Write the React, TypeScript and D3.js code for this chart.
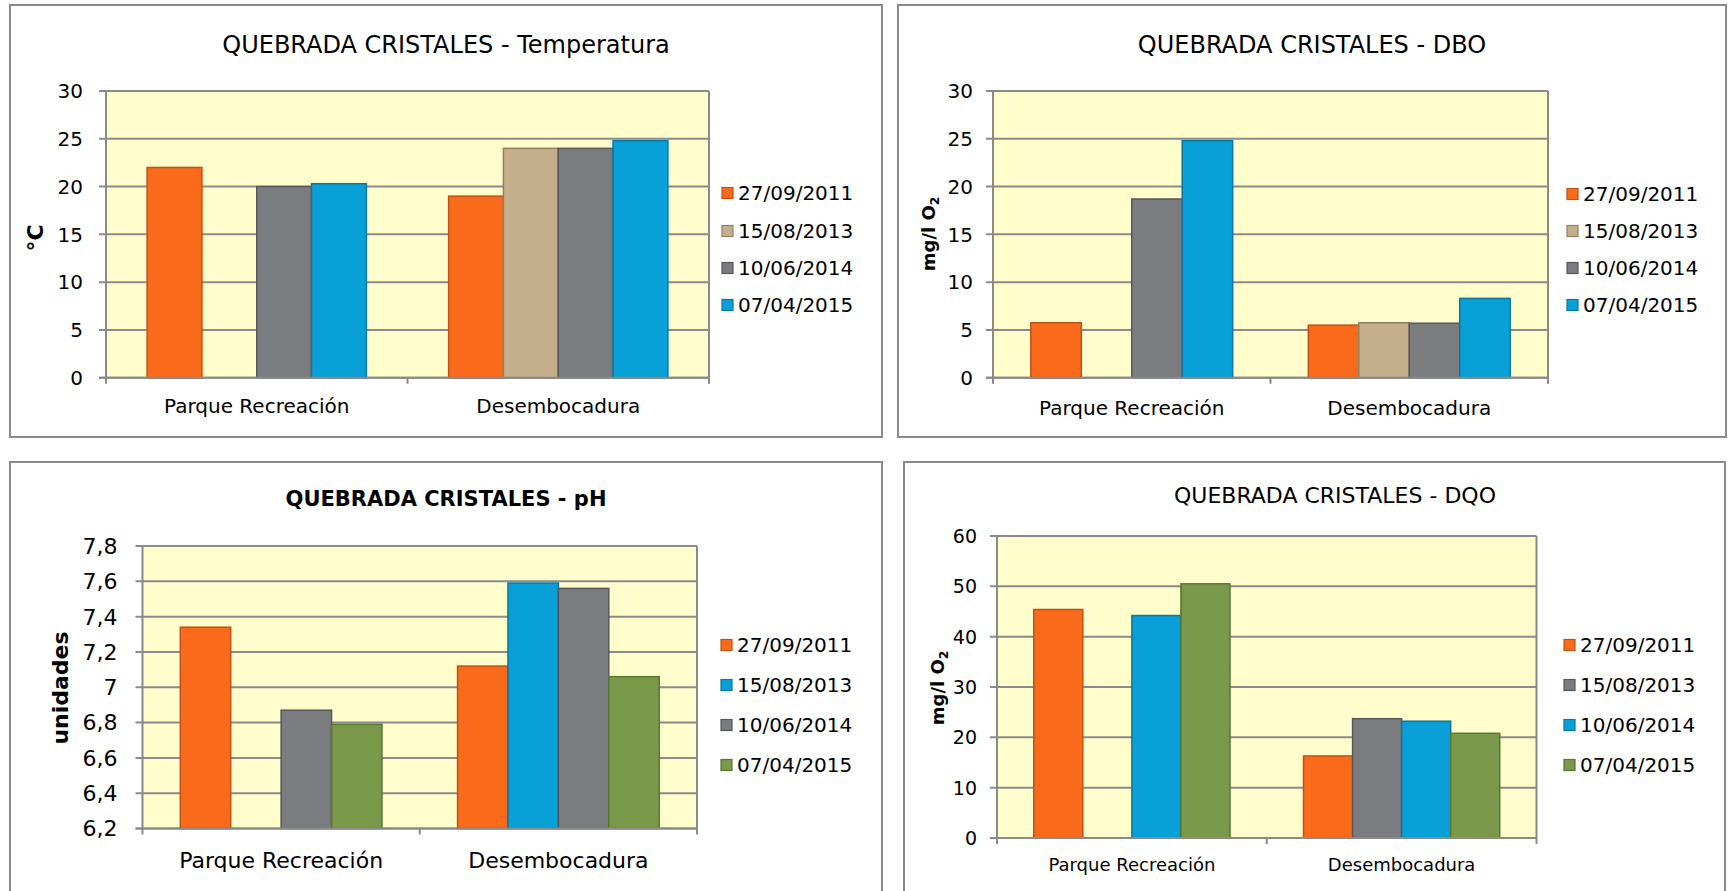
import React from "react";
import * as d3 from "d3";

// ---------- DATA ----------
const categories = ["Parque Recreación", "Desembocadura"];

const tempSeries = ["27/09/2011", "15/08/2013", "10/06/2014", "07/04/2015"];
const tempValues: (number | null)[][] = [
  [22.0, 19.0],
  [null, 24.0],
  [20.0, 24.0],
  [20.3, 24.8],
];
const tempTicks = [0, 5, 10, 15, 20, 25, 30];

const dboSeries = ["27/09/2011", "15/08/2013", "10/06/2014", "07/04/2015"];
const dboValues: (number | null)[][] = [
  [5.75, 5.5],
  [null, 5.75],
  [18.7, 5.7],
  [24.8, 8.3],
];
const dboTicks = [0, 5, 10, 15, 20, 25, 30];

const phSeries = ["27/09/2011", "15/08/2013", "10/06/2014", "07/04/2015"];
const phValues: (number | null)[][] = [
  [7.34, 7.12],
  [null, 7.59],
  [6.87, 7.56],
  [6.79, 7.06],
];
const phTicks = [6.2, 6.4, 6.6, 6.8, 7.0, 7.2, 7.4, 7.6, 7.8];

const dqoSeries = ["27/09/2011", "15/08/2013", "10/06/2014", "07/04/2015"];
const dqoValues: (number | null)[][] = [
  [45.4, 16.3],
  [null, 23.7],
  [44.2, 23.2],
  [50.5, 20.8],
];
const dqoTicks = [0, 10, 20, 30, 40, 50, 60];

// ---------- STYLES ----------
const ORANGE = { fill: "#F96B1B", stroke: "#BF5216" };
const TAN = { fill: "#C4AE8C", stroke: "#93805F" };
const GRAY = { fill: "#7B7C80", stroke: "#57585B" };
const BLUE = { fill: "#09A0D8", stroke: "#0A77A3" };
const GREEN = { fill: "#7A994A", stroke: "#587533" };

const FONT = "'DejaVu Sans', Verdana, sans-serif";
const LINE = "#8A8A8A";
const PLOT_BG = "#FFFDCC";

type PanelProps = {
  frame: { x: number; y: number; w: number; h: number };
  plot: { l: number; r: number; t: number; b: number };
  title: { text: string; x: number; y: number; size: number; bold: boolean };
  ylabel: { x: number; y: number; size: number; sub: boolean; text: string };
  ticks: number[];
  tickFmt: (v: number) => string;
  tickSize: number;
  tickGap: number;
  catSize: number;
  catY: number;
  series: string[];
  values: (number | null)[][];
  colors: { fill: string; stroke: string }[];
  legend: { x: number; ys: number[]; size: number };
};

function Panel(p: PanelProps) {
  const { plot } = p;
  const y = d3
    .scaleLinear()
    .domain([p.ticks[0], p.ticks[p.ticks.length - 1]])
    .range([plot.b, plot.t]);
  const x0 = d3.scaleBand<string>().domain(categories).range([plot.l, plot.r]).padding(0);
  const x1 = d3
    .scaleBand<string>()
    .domain(p.series)
    .range([0, x0.bandwidth()])
    .paddingInner(0)
    .paddingOuter(0.75);
  const boundaries = [plot.l, ...categories.map((c) => (x0(c) as number) + x0.bandwidth())];

  return (
    <g>
      <rect
        x={p.frame.x}
        y={p.frame.y}
        width={p.frame.w}
        height={p.frame.h}
        fill="#fff"
        stroke={LINE}
        strokeWidth={2}
      />
      <text
        x={p.title.x}
        y={p.title.y}
        textAnchor="middle"
        fontFamily={FONT}
        fontSize={p.title.size}
        fontWeight={p.title.bold ? "bold" : "normal"}
        fill="#000"
      >
        {p.title.text}
      </text>
      {/* plot background */}
      <rect x={plot.l} y={plot.t} width={plot.r - plot.l} height={plot.b - plot.t} fill={PLOT_BG} />
      {/* gridlines */}
      {p.ticks.map((t) => (
        <line key={"g" + t} x1={plot.l - 7} x2={plot.r} y1={y(t)} y2={y(t)} stroke={LINE} strokeWidth={2} />
      ))}
      {/* plot borders */}
      <line x1={plot.l} x2={plot.l} y1={plot.t} y2={plot.b + 6} stroke={LINE} strokeWidth={2} />
      <line x1={plot.r} x2={plot.r} y1={plot.t} y2={plot.b + 6} stroke={LINE} strokeWidth={2} />
      {boundaries.slice(1, -1).map((bx, i) => (
        <line key={"bt" + i} x1={bx} x2={bx} y1={plot.b} y2={plot.b + 6} stroke={LINE} strokeWidth={2} />
      ))}
      {/* bars */}
      {p.series.map((s, si) =>
        categories.map((c, ci) => {
          const v = p.values[si][ci];
          if (v == null) return null;
          const bx = (x0(c) as number) + (x1(s) as number);
          const top = y(v);
          return (
            <rect
              key={s + c}
              x={bx}
              y={top}
              width={x1.bandwidth()}
              height={plot.b - top}
              fill={p.colors[si].fill}
              stroke={p.colors[si].stroke}
              strokeWidth={1.5}
            />
          );
        })
      )}
      {/* redraw bottom axis line on top */}
      <line x1={plot.l - 7} x2={plot.r} y1={plot.b} y2={plot.b} stroke={LINE} strokeWidth={2} />
      {/* y tick labels */}
      {p.ticks.map((t) => (
        <text
          key={"t" + t}
          x={plot.l - p.tickGap}
          y={y(t)}
          dy="0.36em"
          textAnchor="end"
          fontFamily={FONT}
          fontSize={p.tickSize}
          fill="#000"
        >
          {p.tickFmt(t)}
        </text>
      ))}
      {/* category labels */}
      {categories.map((c) => (
        <text
          key={"c" + c}
          x={(x0(c) as number) + x0.bandwidth() / 2}
          y={p.catY}
          textAnchor="middle"
          fontFamily={FONT}
          fontSize={p.catSize}
          fill="#000"
        >
          {c}
        </text>
      ))}
      {/* y label */}
      <text
        transform={`translate(${p.ylabel.x},${p.ylabel.y}) rotate(-90)`}
        textAnchor="middle"
        dy="0.36em"
        fontFamily={FONT}
        fontSize={p.ylabel.size}
        fontWeight="bold"
        fill="#000"
      >
        {p.ylabel.sub ? (
          <>
            <tspan>{p.ylabel.text}</tspan>
            <tspan fontSize={p.ylabel.size * 0.68} dy="0.3em">
              2
            </tspan>
          </>
        ) : (
          p.ylabel.text
        )}
      </text>
      {/* legend */}
      {p.series.map((s, si) => (
        <g key={"l" + s}>
          <rect
            x={p.legend.x}
            y={p.legend.ys[si] - 5.5}
            width={11}
            height={11}
            fill={p.colors[si].fill}
            stroke={p.colors[si].stroke}
            strokeWidth={1.2}
          />
          <text
            x={p.legend.x + 16}
            y={p.legend.ys[si]}
            dy="0.36em"
            fontFamily={FONT}
            fontSize={p.legend.size}
            fill="#000"
          >
            {s}
          </text>
        </g>
      ))}
    </g>
  );
}

const intFmt = (v: number) => d3.format("d")(v);
const phFmt = (v: number) => String(+v.toFixed(1)).replace(".", ",");

export default function App() {
  return (
    <svg
      width={1729}
      height={891}
      style={{ position: "absolute", left: 0, top: 0, background: "#fff" }}
    >
      <rect x={0} y={0} width={1729} height={891} fill="#fff" />
      <Panel
        frame={{ x: 10, y: 5, w: 872, h: 432 }}
        plot={{ l: 106, r: 709, t: 91, b: 377.7 }}
        title={{ text: "QUEBRADA CRISTALES - Temperatura", x: 446, y: 53, size: 24, bold: false }}
        ylabel={{ x: 35, y: 238, size: 22, sub: false, text: "°C" }}
        ticks={tempTicks}
        tickFmt={intFmt}
        tickSize={20}
        tickGap={23}
        catSize={20}
        catY={413}
        series={tempSeries}
        values={tempValues}
        colors={[ORANGE, TAN, GRAY, BLUE]}
        legend={{ x: 722, ys: [193, 231, 268, 305], size: 20 }}
      />
      <Panel
        frame={{ x: 898, y: 5, w: 828, h: 432 }}
        plot={{ l: 993, r: 1548, t: 91, b: 377.7 }}
        title={{ text: "QUEBRADA CRISTALES - DBO", x: 1312, y: 53, size: 24, bold: false }}
        ylabel={{ x: 929, y: 234, size: 18, sub: true, text: "mg/l O" }}
        ticks={dboTicks}
        tickFmt={intFmt}
        tickSize={20}
        tickGap={20}
        catSize={20}
        catY={415}
        series={dboSeries}
        values={dboValues}
        colors={[ORANGE, TAN, GRAY, BLUE]}
        legend={{ x: 1567, ys: [194, 231, 268, 305], size: 20 }}
      />
      <Panel
        frame={{ x: 10, y: 462, w: 872, h: 440 }}
        plot={{ l: 142.5, r: 697, t: 546, b: 828.5 }}
        title={{ text: "QUEBRADA CRISTALES - pH", x: 446, y: 506, size: 21, bold: true }}
        ylabel={{ x: 60, y: 688, size: 22, sub: false, text: "unidades" }}
        ticks={phTicks}
        tickFmt={phFmt}
        tickSize={22}
        tickGap={25}
        catSize={22}
        catY={868}
        series={phSeries}
        values={phValues}
        colors={[ORANGE, BLUE, GRAY, GREEN]}
        legend={{ x: 721, ys: [645, 685, 725, 765], size: 20 }}
      />
      <Panel
        frame={{ x: 904, y: 462, w: 821, h: 440 }}
        plot={{ l: 997, r: 1536.5, t: 536, b: 838 }}
        title={{ text: "QUEBRADA CRISTALES - DQO", x: 1335, y: 503, size: 22, bold: false }}
        ylabel={{ x: 938, y: 688, size: 18, sub: true, text: "mg/l O" }}
        ticks={dqoTicks}
        tickFmt={intFmt}
        tickSize={19}
        tickGap={20}
        catSize={18}
        catY={871}
        series={dqoSeries}
        values={dqoValues}
        colors={[ORANGE, GRAY, BLUE, GREEN]}
        legend={{ x: 1564, ys: [645, 685, 725, 765], size: 20 }}
      />
    </svg>
  );
}
